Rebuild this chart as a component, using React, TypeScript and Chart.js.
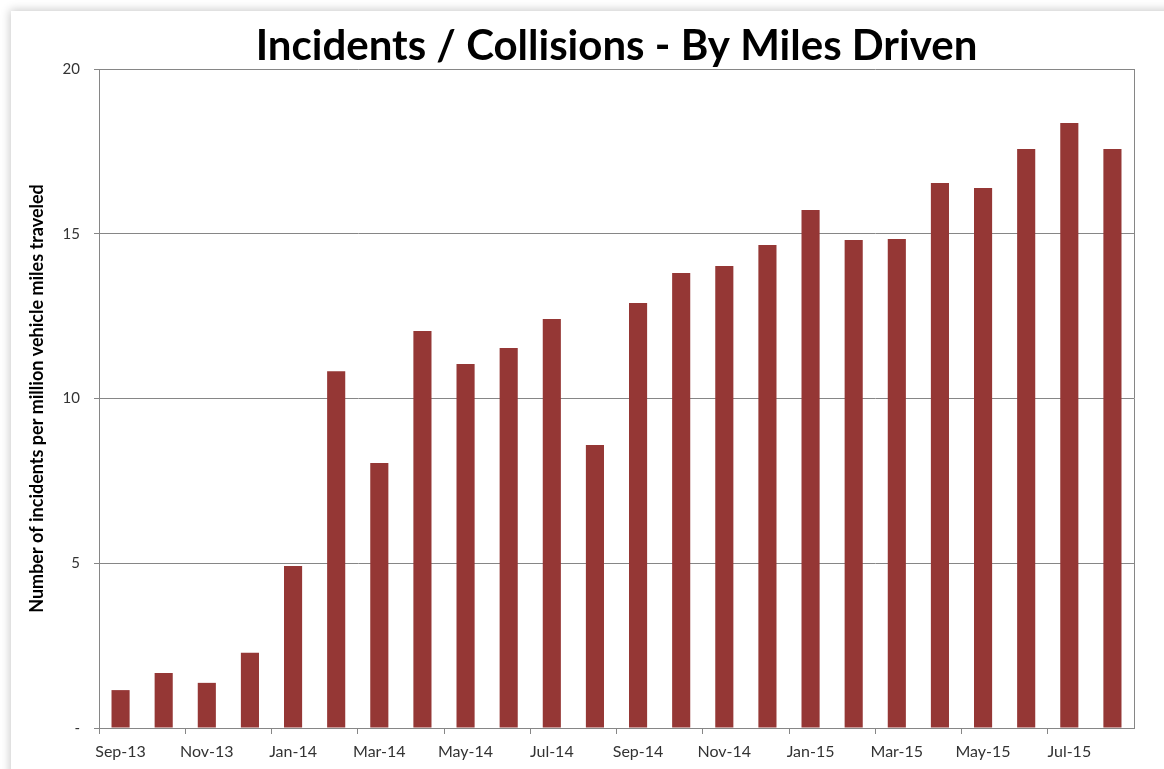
import React, { useEffect, useRef } from 'react';
import { Chart, registerables } from 'chart.js';

Chart.register(...registerables);

const months = [
  'Sep-13', 'Oct-13', 'Nov-13', 'Dec-13', 'Jan-14', 'Feb-14', 'Mar-14', 'Apr-14',
  'May-14', 'Jun-14', 'Jul-14', 'Aug-14', 'Sep-14', 'Oct-14', 'Nov-14', 'Dec-14',
  'Jan-15', 'Feb-15', 'Mar-15', 'Apr-15', 'May-15', 'Jun-15', 'Jul-15', 'Aug-15',
];

const incidentsPerMillionMiles = [
  1.15, 1.67, 1.37, 2.28, 4.92, 10.83, 8.04, 12.05,
  11.05, 11.53, 12.41, 8.59, 12.9, 13.81, 14.02, 14.66,
  15.72, 14.81, 14.84, 16.54, 16.39, 17.57, 18.36, 17.57,
];

const yTicks = [0, 5, 10, 15, 20];

const chartTitle = 'Incidents / Collisions - By Miles Driven';
const yAxisTitle = 'Number of incidents per million vehicle miles traveled';

const FONT = 'Lato, "Open Sans", sans-serif';
const AXIS_GRAY = '#868686';

const frameAndTitle = {
  id: 'frameAndTitle',
  afterDraw(chart: any) {
    const { ctx, chartArea } = chart;
    ctx.save();
    ctx.strokeStyle = AXIS_GRAY;
    ctx.lineWidth = 1;
    ctx.beginPath();
    const x = Math.round(chartArea.right) + 0.5;
    ctx.moveTo(x, chartArea.top);
    ctx.lineTo(x, chartArea.bottom);
    ctx.stroke();
    ctx.fillStyle = '#000000';
    ctx.font = `bold 42px ${FONT}`;
    ctx.textAlign = 'center';
    ctx.textBaseline = 'alphabetic';
    ctx.fillText(chartTitle, (chartArea.left + chartArea.right) / 2, 60);
    ctx.restore();
  },
};

export default function App() {
  const canvasRef = useRef<HTMLCanvasElement | null>(null);

  useEffect(() => {
    document.body.style.margin = '0';
    const canvas = canvasRef.current;
    if (!canvas) return;
    const chart = new Chart(canvas, {
      type: 'bar',
      data: {
        labels: months,
        datasets: [
          {
            data: incidentsPerMillionMiles,
            backgroundColor: '#953735',
            borderWidth: 0,
            barPercentage: 0.42,
            categoryPercentage: 1,
          },
        ],
      },
      options: {
        animation: false,
        responsive: false,
        maintainAspectRatio: false,
        layout: { padding: { left: 26, right: 30, top: 69, bottom: 0 } },
        plugins: {
          legend: { display: false },
          tooltip: { enabled: false },
          title: { display: false },
        },
        scales: {
          x: {
            offset: true,
            grid: {
              display: true,
              offset: true,
              drawOnChartArea: false,
              drawTicks: true,
              tickLength: 6,
              color: (ctx: any) => (ctx.index % 2 === 0 ? AXIS_GRAY : 'rgba(0,0,0,0)'),
            },
            border: { display: true, color: AXIS_GRAY, width: 1 },
            ticks: {
              autoSkip: false,
              maxRotation: 0,
              minRotation: 0,
              color: '#333333',
              font: { family: FONT, size: 16 },
              padding: 8,
              callback: function (this: any, val: any, idx: number) {
                return idx % 2 === 0 ? this.getLabelForValue(val) : '';
              },
            },
            afterFit: (scale: any) => {
              scale.height = 41;
            },
          },
          y: {
            min: 0,
            max: 20,
            afterBuildTicks: (scale: any) => {
              scale.ticks = yTicks.map((v) => ({ value: v }));
            },
            grid: {
              display: true,
              color: AXIS_GRAY,
              lineWidth: 1,
              drawTicks: true,
              tickLength: 5,
            },
            border: { display: true, color: AXIS_GRAY, width: 1 },
            ticks: {
              color: '#333333',
              font: { family: FONT, size: 15 },
              padding: 14,
              callback: (v: any) => (Number(v) === 0 ? '-' : String(v)),
            },
            title: {
              display: true,
              text: yAxisTitle,
              color: '#000000',
              font: { family: FONT, size: 18, weight: 'bold' },
              padding: { top: 0, bottom: 0 },
            },
            afterFit: (scale: any) => {
              scale.width = 73;
            },
          },
        },
      },
      plugins: [frameAndTitle],
    });
    return () => chart.destroy();
  }, []);

  return (
    <div style={{ position: 'relative', width: 1164, height: 769, background: '#ffffff', overflow: 'hidden' }}>
      <div
        style={{
          position: 'absolute',
          left: 11,
          top: 11,
          width: 1200,
          height: 800,
          background: '#ffffff',
          boxShadow: '0 0 9px 1px rgba(0,0,0,0.22)',
        }}
      />
      <canvas
        ref={canvasRef}
        width={1164}
        height={769}
        style={{ position: 'absolute', left: 0, top: 0, width: 1164, height: 769 }}
      />
    </div>
  );
}
